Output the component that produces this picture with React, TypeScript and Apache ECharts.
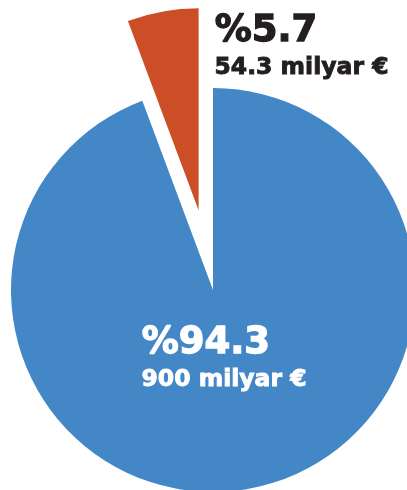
import React, { useEffect, useRef } from "react";
import * as echarts from "echarts";

const names = ["Diğer", "Pay"];
const values = [900, 54.3];
const amountLabels = ["900 milyar €", "54.3 milyar €"];
const colors = ["#4487C7", "#CC4E27"];

export default function App() {
  const ref = useRef<HTMLDivElement>(null);
  useEffect(() => {
    const chart = echarts.init(ref.current!, null, { renderer: "svg" });
    const total = values.reduce((a, b) => a + b, 0);
    const pct = values.map((v) => "%" + ((v / total) * 100).toFixed(1));
    const font = "'DejaVu Sans', sans-serif";
    chart.setOption({
      animation: false,
      series: [
        {
          type: "pie",
          center: [213, 290],
          radius: 202,
          startAngle: 90,
          clockwise: true,
          selectedMode: "single",
          selectedOffset: 81,
          label: { show: false },
          labelLine: { show: false },
          emphasis: { disabled: true },
          silent: true,
          itemStyle: { borderWidth: 0 },
          data: values.map((v, i) => ({
            name: names[i],
            value: v,
            selected: i === 1,
            itemStyle: { color: colors[i] },
          })),
        },
      ],
      graphic: [
        {
          type: "text",
          z: 100,
          left: 214,
          top: 9,
          style: {
            text: pct[1], font: `bold 37px ${font}`, fill: "#231F20", lineHeight: 37,
            stroke: "#231F20", lineWidth: 1.3,
          },
        },
        {
          type: "text",
          z: 100,
          left: 214,
          top: 54,
          style: {
            text: amountLabels[1], font: `bold 23.5px ${font}`, fill: "#231F20", lineHeight: 24,
            stroke: "#231F20", lineWidth: 0.9,
          },
        },
        {
          type: "text",
          z: 100,
          left: 141,
          top: 321,
          style: {
            text: pct[0], font: `bold 37px ${font}`, fill: "#FFFFFF", lineHeight: 37,
            stroke: "#FFFFFF", lineWidth: 1.3,
          },
        },
        {
          type: "text",
          z: 100,
          left: 141,
          top: 366,
          style: {
            text: amountLabels[0], font: `bold 23.5px ${font}`, fill: "#FFFFFF", lineHeight: 24,
            stroke: "#FFFFFF", lineWidth: 0.9,
          },
        },
      ],
    });
    return () => chart.dispose();
  }, []);
  return (
    <div
      ref={ref}
      style={{ position: "fixed", left: 0, top: 0, width: 407, height: 490 }}
    />
  );
}
